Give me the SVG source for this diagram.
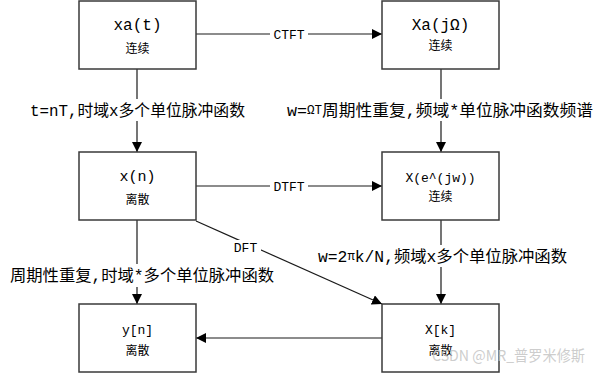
<svg xmlns="http://www.w3.org/2000/svg" width="604" height="373" viewBox="0 0 604 373">
<defs>
<marker id="ah" markerUnits="userSpaceOnUse" markerWidth="11" markerHeight="11" refX="10" refY="5" orient="auto">
<path d="M0,0 L10,5 L0,10 z" fill="#000"/>
</marker>
<style>
.box{fill:#fff;stroke:#3a3a3a;stroke-width:1.5}
.ln{fill:none;stroke:#1a1a1a;stroke-width:1.2;marker-end:url(#ah)}
.t1{font-family:"Liberation Mono","Noto Sans CJK SC",monospace;text-anchor:middle;fill:#000}
.t2{font-family:"Noto Sans CJK SC",sans-serif;font-size:12px;text-anchor:middle;fill:#000}
.lb{font-family:"Liberation Mono","Noto Sans CJK SC",monospace;font-size:16px;fill:#000}
.el{font-family:"Liberation Mono",monospace;font-size:13px;text-anchor:middle;fill:#000}
.bg{fill:#fff}
</style>
</defs>
<rect width="604" height="373" fill="#fff"/>
<g id="connectors">
<line class="ln" x1="196" y1="34" x2="382" y2="34"/>
<line class="ln" x1="196" y1="186" x2="382" y2="186"/>
<line class="ln" x1="137" y1="69" x2="137" y2="152"/>
<line class="ln" x1="441" y1="69" x2="441" y2="152"/>
<line class="ln" x1="137" y1="220" x2="137" y2="304"/>
<line class="ln" x1="441" y1="220" x2="441" y2="304"/>
<line class="ln" x1="196" y1="221" x2="382" y2="304"/>
<line class="ln" x1="382" y1="338" x2="196" y2="338"/>
<rect class="bg" x="270" y="27" width="38" height="14"/>
<text class="el" x="289" y="39">CTFT</text>
<rect class="bg" x="270" y="179" width="38" height="14"/>
<text class="el" x="289" y="191">DTFT</text>
<rect class="bg" x="230" y="240" width="31" height="15"/>
<text class="el" x="245.5" y="252">DFT</text>
<rect class="bg" x="28" y="99" width="219" height="22"/>
<text class="lb" x="30" y="116" textLength="215" lengthAdjust="spacingAndGlyphs">t=nT,时域x多个单位脉冲函数</text>
<rect class="bg" x="285" y="99" width="310" height="22"/>
<text class="lb" x="287" y="116" textLength="306" lengthAdjust="spacingAndGlyphs">w=<tspan font-size="12" dy="-2">ΩT</tspan><tspan dy="2">周期性重复,频域*单位脉冲函数频谱</tspan></text>
<rect class="bg" x="8" y="264" width="269" height="23"/>
<text class="lb" x="10" y="281" textLength="264" lengthAdjust="spacingAndGlyphs">周期性重复,时域*多个单位脉冲函数</text>
<rect class="bg" x="316" y="245" width="253" height="22"/>
<text class="lb" x="318" y="262" textLength="249" lengthAdjust="spacingAndGlyphs">w=2<tspan font-size="12" dy="-2">π</tspan><tspan dy="2">k/N,频域x多个单位脉冲函数</tspan></text>
</g>
<g id="xa_t">
<rect class="box" x="79" y="1" width="117" height="68"/>
<text class="t1" x="137.5" y="30" font-size="16">xa(t)</text>
<text class="t2" x="137.5" y="53">连续</text>
</g>
<g id="Xa_jOmega">
<rect class="box" x="382" y="1" width="117" height="68"/>
<text class="t1" x="440.5" y="30" font-size="16">Xa(jΩ)</text>
<text class="t2" x="440.5" y="50">连续</text>
</g>
<g id="x_n">
<rect class="box" x="79" y="152" width="117" height="68"/>
<text class="t1" x="137.5" y="181" font-size="15">x(n)</text>
<text class="t2" x="137.5" y="204">离散</text>
</g>
<g id="X_ejw">
<rect class="box" x="382" y="152" width="117" height="68"/>
<text class="t1" x="440.5" y="182" font-size="13">X(e^(jw))</text>
<text class="t2" x="440.5" y="201">连续</text>
</g>
<g id="y_n">
<rect class="box" x="79" y="304" width="117" height="68"/>
<text class="t1" x="137.5" y="334" font-size="13">y[n]</text>
<text class="t2" x="137.5" y="355">离散</text>
</g>
<g id="X_k">
<rect class="box" x="382" y="304" width="117" height="68"/>
<text class="t1" x="440.5" y="334" font-size="13">X[k]</text>
<text class="t2" x="440.5" y="355">离散</text>
</g>
<text x="432" y="361" font-family="'Noto Sans CJK SC',sans-serif" font-size="15" fill="#c4c4c4" fill-opacity="0.85" textLength="153" lengthAdjust="spacingAndGlyphs">CSDN @MR_普罗米修斯</text>
</svg>
